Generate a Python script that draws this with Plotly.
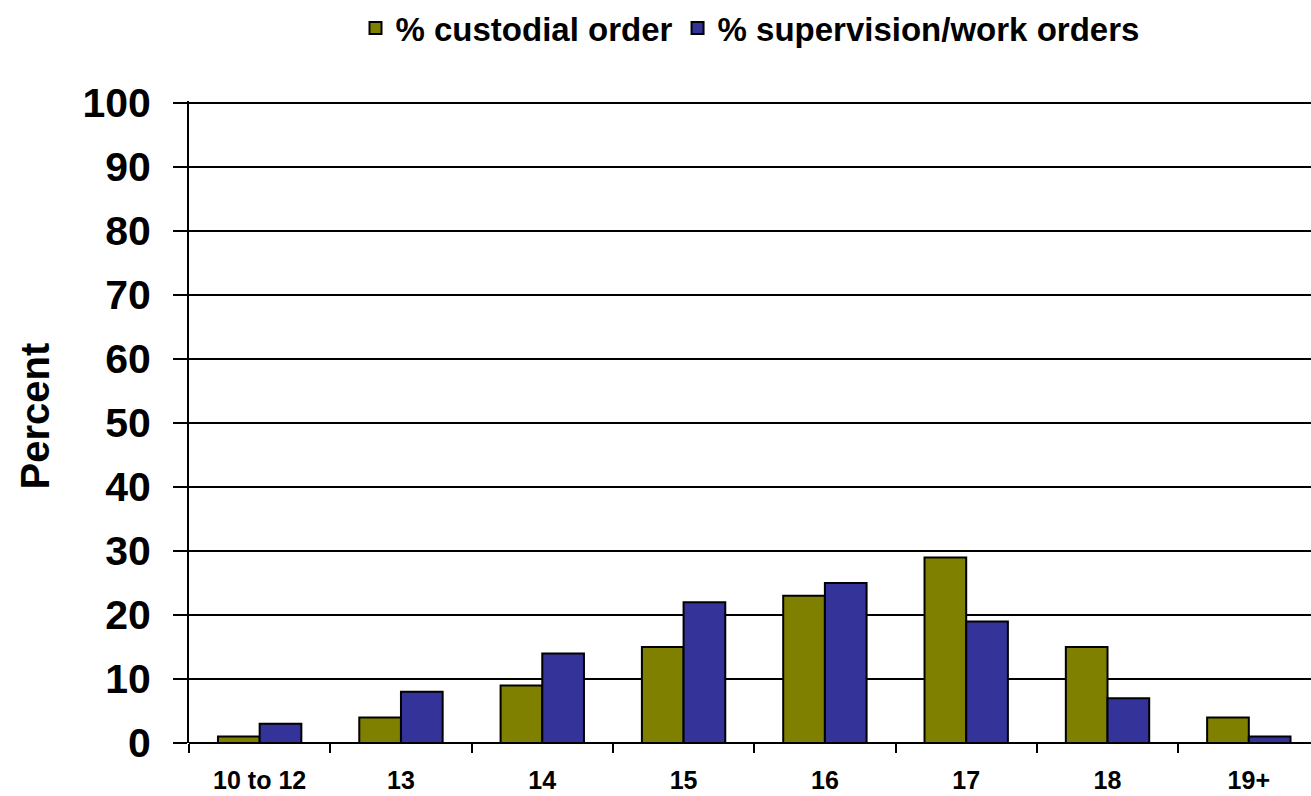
import plotly.graph_objects as go

# age groups and percentages
age_groups = ['10 to 12', '13', '14', '15', '16', '17', '18', '19+']
custodial = [1, 4, 9, 15, 23, 29, 15, 4]
supervision = [3, 8, 14, 22, 25, 19, 7, 1]
y_ticks = [0, 10, 20, 30, 40, 50, 60, 70, 80, 90, 100]

FONT = 'Liberation Sans, Arial, sans-serif'

fig = go.Figure()
fig.add_trace(go.Bar(x=age_groups, y=custodial, name='% custodial order',
                     marker=dict(color='#808000', line=dict(color='black', width=2))))
fig.add_trace(go.Bar(x=age_groups, y=supervision, name='% supervision/work orders',
                     marker=dict(color='#333399', line=dict(color='black', width=2))))

fig.update_layout(
    width=1311, height=796,
    margin=dict(l=189, r=0, t=101, b=53),
    paper_bgcolor='white', plot_bgcolor='white',
    barmode='group', bargap=0.41, bargroupgap=0,
    font=dict(family=FONT, color='black'),
    legend=dict(orientation='h', x=0.50, xanchor='center', y=1.0, yref='container',
                yanchor='top', font=dict(size=33, family=FONT, weight='bold'),
                itemwidth=30, traceorder='normal'),
    xaxis=dict(type='category', range=[-0.5, 7.44], tickson='boundaries',
               ticks='outside', ticklen=9, tickwidth=2, tickcolor='black',
               showline=False, showgrid=False,
               tickfont=dict(size=25, family=FONT, weight='bold'),
               ticklabelstandoff=20),
    yaxis=dict(range=[0, 100.3], tickvals=y_ticks, showgrid=True, gridcolor='black',
               gridwidth=2, showline=True, linecolor='black', linewidth=2,
               ticks='outside', ticklen=14, tickwidth=2, tickcolor='black',
               zeroline=True, zerolinecolor='black', zerolinewidth=2,
               tickfont=dict(size=41, family=FONT, weight='bold'),
               ticklabelstandoff=14),
    annotations=[dict(text='Percent', textangle=-90, x=-0.137, y=0.509,
                      xref='paper', yref='paper', xanchor='center', yanchor='middle',
                      showarrow=False, font=dict(size=40, family=FONT, weight='bold'))],
)

# page body has a default margin; remove it so the figure fills the window
fig.write_html('out.html', config={'displayModeBar': False},
               post_script="document.body.style.margin='0';")
